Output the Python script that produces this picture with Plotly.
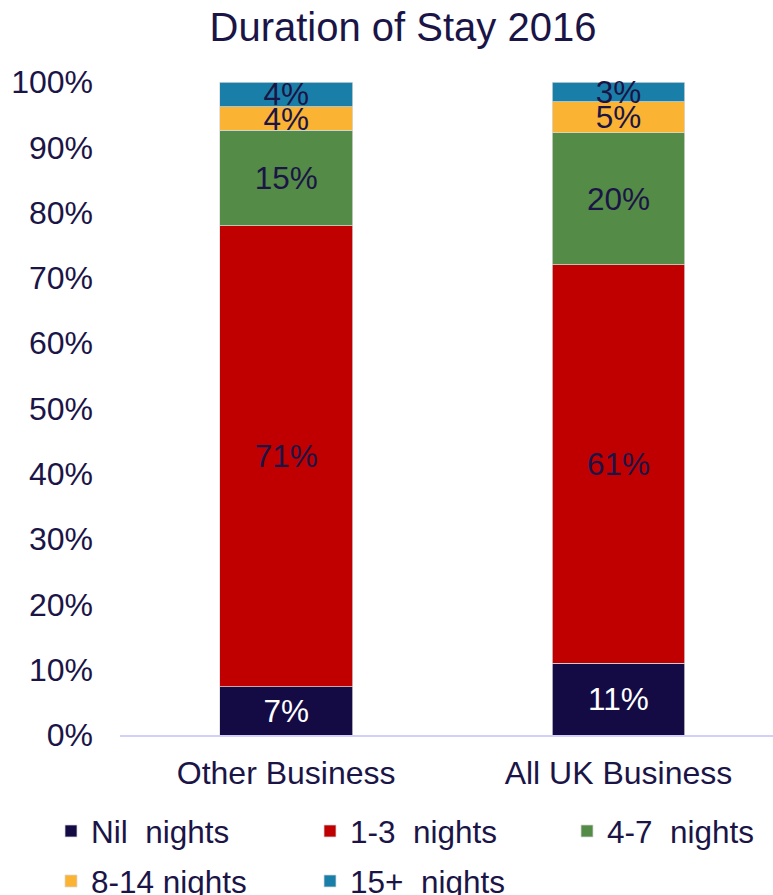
import plotly.graph_objects as go

categories = ["Other Business", "All UK Business"]
series_names = ["Nil\u00a0\u00a0nights", "1-3\u00a0\u00a0nights", "4-7\u00a0\u00a0nights", "8-14 nights", "15+\u00a0\u00a0nights"]
nil_nights = [7.4, 11.0]
n1_3 = [70.6, 61.0]
n4_7 = [14.6, 20.2]
n8_14 = [3.6, 4.8]
n15_plus = [3.8, 3.0]
y_ticks = [0, 10, 20, 30, 40, 50, 60, 70, 80, 90, 100]
y_tick_labels = [f"{v}%" for v in y_ticks]

colors = ["#140A44", "#C00000", "#548B46", "#FBB333", "#1A7FA8"]
text_colors = ["#FFFFFF", "#1B1547", "#1B1547", "#1B1547", "#1B1547"]
legends = ["legend", "legend", "legend3", "legend2", "legend2"]
values = [nil_nights, n1_3, n4_7, n8_14, n15_plus]

FONT = "Liberation Sans, Arial, sans-serif"
NAVY = "#1B1547"

fig = go.Figure()
for name, vals, col, tcol, lg in zip(series_names, values, colors, text_colors, legends):
    fig.add_trace(go.Bar(
        x=categories, y=vals, name=name,
        marker=dict(color=col, line=dict(color="#D9D9D9", width=0.75)),
        width=0.4,
        texttemplate="%{y:.0f}%",
        textposition="inside",
        insidetextanchor="middle",
        textangle=0,
        textfont=dict(color=tcol, size=31.5, family=FONT),
        cliponaxis=False,
        legend=lg,
    ))

legend_common = dict(orientation="h", xanchor="left", yanchor="middle",
                     xref="container", yref="container", bgcolor="rgba(0,0,0,0)",
                     entrywidth=214, entrywidthmode="pixels",
                     font=dict(size=31.5, color=NAVY, family=FONT), traceorder="normal")

fig.update_layout(
    barmode="stack",
    width=773, height=895,
    margin=dict(l=120, r=0, t=82, b=160),
    paper_bgcolor="white", plot_bgcolor="white",
    font=dict(family=FONT, color=NAVY, size=32),
    uniformtext=dict(minsize=31, mode="show"),
    title=dict(text="Duration of Stay 2016", font=dict(size=40, color=NAVY, family=FONT),
               x=(403 - 120) / 653, xref="paper", xanchor="center",
               y=1 - 27 / 895, yref="container", yanchor="middle"),
    xaxis=dict(range=[-0.5, 1.465], showline=True, linecolor="#D0D0F8", linewidth=2,
               showgrid=False, ticks="", tickfont=dict(size=32, color=NAVY),
               ticklabelstandoff=9),
    yaxis=dict(range=[0, 100], tickmode="array", tickvals=y_ticks, ticktext=y_tick_labels,
               showgrid=False, showline=False, zeroline=False, ticks="",
               tickfont=dict(size=32, color=NAVY), ticklabelstandoff=26),
    legend=dict(legend_common, x=51 / 773, y=1 - 831 / 895),
    legend3=dict(legend_common, x=567 / 773, y=1 - 831 / 895),
    legend2=dict(legend_common, x=51 / 773, y=1 - 881 / 895),
)

fig.write_html("out.html")
